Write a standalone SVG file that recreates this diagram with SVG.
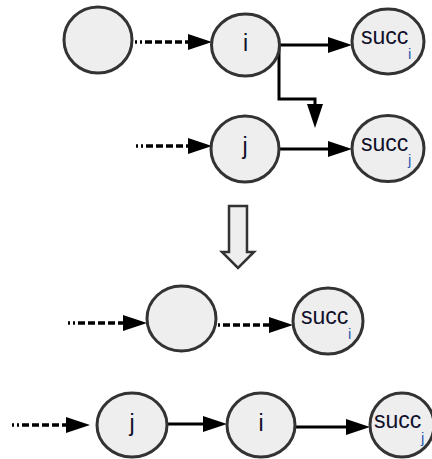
<svg xmlns="http://www.w3.org/2000/svg" width="432" height="459" viewBox="0 0 432 459">
<defs>
<marker id="ah" markerUnits="userSpaceOnUse" markerWidth="26" markerHeight="18" refX="2" refY="8" orient="auto">
<path d="M0,0 L24,8 L0,16 z" fill="#000"/>
</marker>
<style>
.node ellipse{fill:#eeeeee;stroke:#333;stroke-width:3}
.lbl{font-family:"Liberation Sans",Arial,sans-serif;font-size:23px;fill:#10102a}
.sub{font-family:"Liberation Sans",Arial,sans-serif;font-size:15px;fill:#2a5db0}
.c{fill:none;stroke:#000;stroke-width:3;marker-end:url(#ah)}
.d{stroke-width:3.5;stroke-dasharray:2 3 2 3 7 3 7 3 7 3 7 3 7 3 7 3 7 3 7 3}
.d2{stroke-width:3.5;stroke-dasharray:2 3 7 3 7 3 7 3 7 3 7 3 7 3 7 3}
</style>
</defs>
<rect width="432" height="459" fill="#fff"/>
<g id="connectors">
<path class="c d" d="M135,42 H190"/>
<path class="c" d="M280,45 H330"/>
<path class="c" d="M279,47 V99 H315 V106"/>
<path class="c d" d="M136,146 H190"/>
<path class="c" d="M280,149 H330"/>
<path class="c d" d="M68,323 H125"/>
<path class="c d2" d="M218,325 H271"/>
<path class="c d" d="M12,425 H68"/>
<path class="c" d="M165,424 H205"/>
<path class="c" d="M296,427 H348"/>
</g>
<g id="transform-arrow">
<polygon points="229,206 247,206 247,252 254,252 238,268 222,252 229,252" fill="#eeeeee" stroke="#333" stroke-width="2.5" stroke-linejoin="miter"/>
</g>
<g id="n-prev-top" class="node"><ellipse cx="98" cy="40" rx="34" ry="33"/></g>
<g id="n-i-top" class="node"><ellipse cx="245.5" cy="45" rx="34" ry="31"/><text class="lbl" x="245.5" y="51" text-anchor="middle">i</text></g>
<g id="n-succi-top" class="node"><ellipse cx="388" cy="41.5" rx="36" ry="32.5"/><text class="lbl" x="361" y="44">succ</text><text class="sub" x="408" y="59">i</text></g>
<g id="n-j-top" class="node"><ellipse cx="245" cy="149" rx="34" ry="33"/><text class="lbl" x="245" y="154" text-anchor="middle">j</text></g>
<g id="n-succj-top" class="node"><ellipse cx="388" cy="148.5" rx="36" ry="33"/><text class="lbl" x="361" y="151">succ</text><text class="sub" x="408" y="165">j</text></g>
<g id="n-prev-bottom" class="node"><ellipse cx="181.5" cy="318.5" rx="34.5" ry="32.5"/></g>
<g id="n-succi-bottom" class="node"><ellipse cx="328" cy="321" rx="35" ry="33"/><text class="lbl" x="301" y="324">succ</text><text class="sub" x="348" y="339">i</text></g>
<g id="n-j-bottom" class="node"><ellipse cx="132" cy="425" rx="35" ry="32"/><text class="lbl" x="132" y="431" text-anchor="middle">j</text></g>
<g id="n-i-bottom" class="node"><ellipse cx="261" cy="425" rx="34" ry="32"/><text class="lbl" x="261" y="431" text-anchor="middle">i</text></g>
<g id="n-succj-bottom" class="node"><ellipse cx="402" cy="425" rx="32" ry="32"/><text class="lbl" x="374" y="428">succ</text><text class="sub" x="421" y="443">j</text></g>
</svg>
